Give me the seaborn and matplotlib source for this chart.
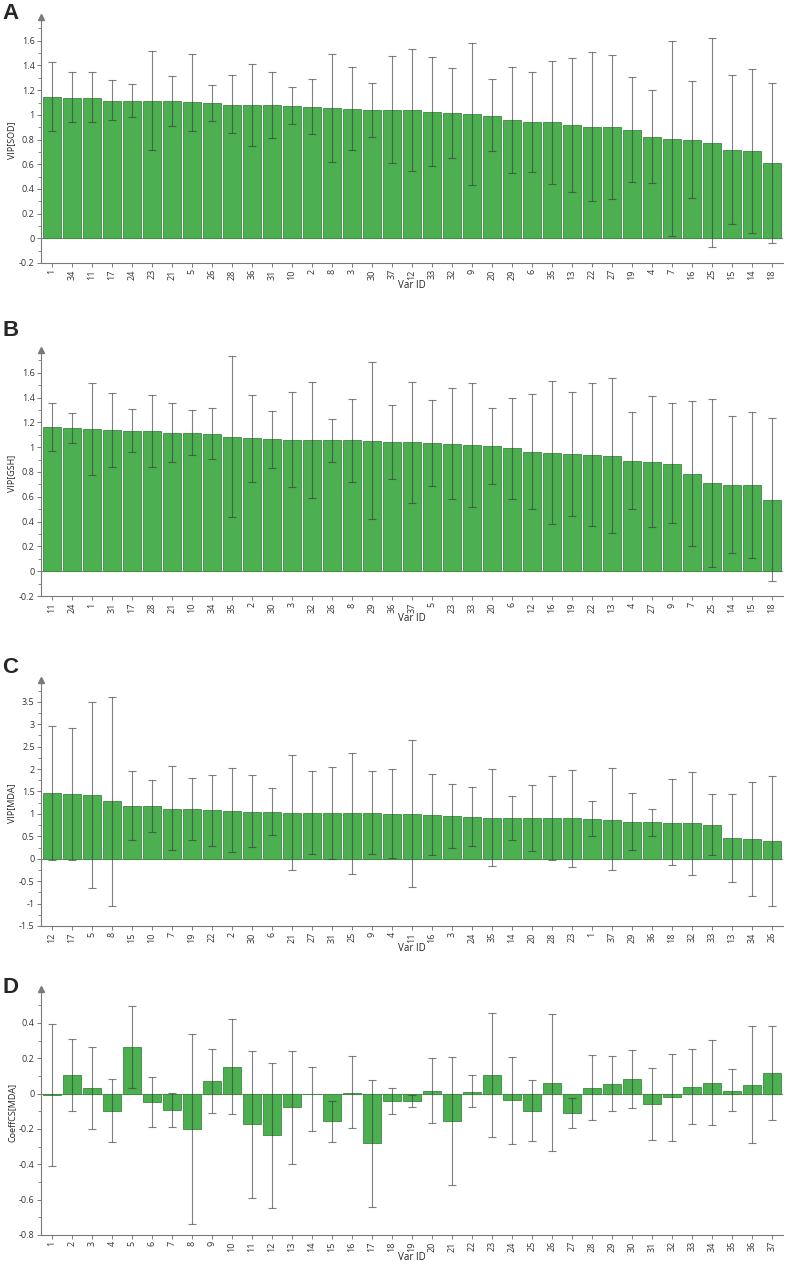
import numpy as np
import pandas as pd
import seaborn as sns
import matplotlib
matplotlib.use('Agg')
import matplotlib.pyplot as plt
from matplotlib.ticker import MultipleLocator, AutoMinorLocator

# ---- panel A: VIP[SOD]
ids_a = ['1', '34', '11', '17', '24', '23', '21', '5', '26', '28', '36', '31', '10', '2', '8', '3', '30', '37', '12',
         '33', '32', '9', '20', '29', '6', '35', '13', '22', '27', '19', '4', '7', '16', '25', '15', '14', '18']
vip_a = [1.141, 1.139, 1.139, 1.115, 1.115, 1.112, 1.109, 1.107, 1.093, 1.083, 1.077, 1.077, 1.072, 1.064, 1.053,
         1.048, 1.043, 1.040, 1.037, 1.021, 1.013, 1.005, 0.989, 0.955, 0.939, 0.939, 0.915, 0.899, 0.899, 0.880,
         0.824, 0.805, 0.797, 0.773, 0.712, 0.704, 0.608]
hi_a = [1.432, 1.349, 1.344, 1.283, 1.253, 1.515, 1.312, 1.493, 1.245, 1.320, 1.408, 1.347, 1.227, 1.288, 1.491,
        1.389, 1.261, 1.480, 1.536, 1.472, 1.379, 1.584, 1.288, 1.384, 1.344, 1.440, 1.461, 1.509, 1.485, 1.304,
        1.205, 1.595, 1.272, 1.619, 1.320, 1.371, 1.256]
lo_a = [0.867, 0.939, 0.944, 0.955, 0.979, 0.717, 0.912, 0.872, 0.947, 0.853, 0.749, 0.813, 0.925, 0.848, 0.621,
        0.712, 0.824, 0.608, 0.547, 0.584, 0.651, 0.432, 0.704, 0.531, 0.539, 0.440, 0.376, 0.299, 0.315, 0.459,
        0.451, 0.021, 0.328, -0.069, 0.115, 0.040, -0.035]

# ---- panel B: VIP[GSH]
ids_b = ['11', '24', '1', '31', '17', '28', '21', '10', '34', '35', '2', '30', '3', '32', '26', '8', '29', '36', '37',
         '5', '23', '33', '20', '6', '12', '16', '19', '22', '13', '4', '27', '9', '7', '25', '14', '15', '18']
vip_b = [1.163, 1.153, 1.145, 1.137, 1.132, 1.129, 1.118, 1.118, 1.108, 1.084, 1.070, 1.062, 1.060, 1.060, 1.054,
         1.054, 1.052, 1.044, 1.038, 1.033, 1.025, 1.014, 1.006, 0.990, 0.961, 0.956, 0.942, 0.937, 0.929, 0.889,
         0.884, 0.863, 0.783, 0.708, 0.698, 0.695, 0.578]
hi_b = [1.360, 1.278, 1.520, 1.435, 1.307, 1.424, 1.358, 1.299, 1.318, 1.733, 1.419, 1.291, 1.443, 1.523, 1.227,
        1.390, 1.688, 1.342, 1.528, 1.382, 1.475, 1.518, 1.313, 1.398, 1.430, 1.531, 1.446, 1.515, 1.555, 1.286,
        1.414, 1.353, 1.374, 1.390, 1.249, 1.283, 1.235]
lo_b = [0.966, 1.030, 0.775, 0.841, 0.958, 0.841, 0.881, 0.940, 0.903, 0.439, 0.719, 0.836, 0.682, 0.594, 0.881,
        0.716, 0.418, 0.745, 0.548, 0.690, 0.583, 0.517, 0.703, 0.583, 0.498, 0.383, 0.445, 0.367, 0.312, 0.501,
        0.357, 0.386, 0.200, 0.035, 0.149, 0.106, -0.075]

# ---- panel C: VIP[MDA]
ids_c = ['12', '17', '5', '8', '15', '10', '7', '19', '22', '2', '30', '6', '21', '27', '31', '25', '9', '4', '11',
         '16', '3', '24', '35', '14', '20', '28', '23', '1', '37', '29', '36', '18', '32', '33', '13', '34', '26']
vip_c = [1.462, 1.448, 1.433, 1.278, 1.174, 1.167, 1.115, 1.100, 1.078, 1.071, 1.049, 1.041, 1.027, 1.019, 1.019,
         1.019, 1.019, 1.004, 1.004, 0.975, 0.945, 0.931, 0.916, 0.916, 0.908, 0.901, 0.901, 0.886, 0.871, 0.820,
         0.812, 0.805, 0.790, 0.753, 0.465, 0.436, 0.391]
hi_c = [2.969, 2.925, 3.508, 3.611, 1.950, 1.758, 2.061, 1.802, 1.876, 2.024, 1.861, 1.580, 2.319, 1.950, 2.053,
        2.363, 1.950, 2.000, 2.651, 1.891, 1.677, 1.595, 2.001, 1.403, 1.654, 1.839, 1.987, 1.285, 2.016, 1.477,
        1.108, 1.780, 1.942, 1.448, 1.455, 1.721, 1.846]
lo_c = [-0.030, -0.030, -0.650, -1.049, 0.414, 0.591, 0.192, 0.414, 0.295, 0.140, 0.258, 0.539, -0.251, 0.096, 0.000,
        -0.332, 0.096, 0.015, -0.635, 0.074, 0.229, 0.295, -0.162, 0.428, 0.177, -0.022, -0.177, 0.502, -0.251, 0.185,
        0.517, -0.148, -0.355, 0.074, -0.524, -0.827, -1.056]

# ---- panel D: CoeffCS[MDA]
ids_d = [str(i) for i in range(1, 38)]
coef_d = [-0.005, 0.104, 0.034, -0.098, 0.262, -0.045, -0.091, -0.198, 0.070, 0.153, -0.174, -0.234, -0.075, -0.004,
          -0.157, 0.006, -0.279, -0.043, -0.042, 0.017, -0.155, 0.011, 0.104, -0.036, -0.098, 0.062, -0.109, 0.034,
          0.057, 0.081, -0.057, -0.019, 0.036, 0.060, 0.017, 0.047, 0.117]
hi_d = [0.394, 0.309, 0.266, 0.085, 0.496, 0.096, 0.004, 0.338, 0.255, 0.425, 0.242, 0.175, 0.243, 0.153, -0.042,
        0.213, 0.077, 0.032, -0.006, 0.202, 0.206, 0.106, 0.457, 0.209, 0.077, 0.453, -0.026, 0.221, 0.215, 0.245,
        0.147, 0.226, 0.251, 0.304, 0.142, 0.381, 0.385]
lo_d = [-0.408, -0.098, -0.200, -0.275, 0.032, -0.187, -0.187, -0.738, -0.109, -0.115, -0.591, -0.645, -0.396, -0.211,
        -0.275, -0.194, -0.640, -0.115, -0.075, -0.164, -0.517, -0.075, -0.243, -0.287, -0.270, -0.323, -0.192, -0.149,
        -0.100, -0.079, -0.260, -0.268, -0.172, -0.179, -0.100, -0.281, -0.147]

sns.set_theme(style='white')
plt.rcParams['font.family'] = ['Open Sans', 'DejaVu Sans']

GREEN = '#4caf50'
EDGE = '#3a8a3e'
GREY = '#7a7a7a'

fig = plt.figure(figsize=(7.96, 12.66), dpi=100)

panels = [
    ('A', ids_a, vip_a, lo_a, hi_a, 'VIP[SOD]', (-0.2, 1.79), 0.2, 0.7923, 1 - 3 / 1266),
    ('B', ids_b, vip_b, lo_b, hi_b, 'VIP[GSH]', (-0.2, 1.78), 0.2, 0.5292, 1 - 320 / 1266),
    ('C', ids_c, vip_c, lo_c, hi_c, 'VIP[MDA]', (-1.5, 3.98), 0.5, 0.2686, 1 - 657 / 1266),
    ('D', ids_d, coef_d, lo_d, hi_d, 'CoeffCS[MDA]', (-0.8, 0.59), 0.2, 0.0245, 1 - 977 / 1266),
]

for letter, ids, vals, lo, hi, ylab, ylim, step, bottom, label_y in panels:
    ax = fig.add_axes([0.0515, bottom, 0.932, 0.194])
    df = pd.DataFrame({'id': ids, 'val': vals})
    sns.barplot(data=df, x='id', y='val', order=ids, color=GREEN, saturation=1,
                width=0.88, edgecolor=EDGE, linewidth=0.6, ax=ax)
    vals = np.array(vals)
    yerr = [vals - np.array(lo), np.array(hi) - vals]
    ax.errorbar(np.arange(len(ids)), vals, yerr=yerr, fmt='none', ecolor='#3c3c3c',
                alpha=0.65, elinewidth=0.8, capsize=3, capthick=0.8)
    ax.axhline(0, color='#8a8a8a', lw=0.8, zorder=0.5)

    ax.set_xlim(-0.55, len(ids) - 0.45)
    ax.set_ylim(*ylim)
    ax.yaxis.set_major_locator(MultipleLocator(step))
    ax.yaxis.set_minor_locator(AutoMinorLocator(2))
    ax.yaxis.set_major_formatter(plt.FuncFormatter(lambda v, p: f'{v:g}'))

    for s in ['top', 'right']:
        ax.spines[s].set_visible(False)
    for s in ['left', 'bottom']:
        ax.spines[s].set_color(GREY)
        ax.spines[s].set_linewidth(0.8)
    # arrow head on top of the y axis
    ax.plot(0, 1.0, marker='^', color=GREY, markersize=4.5, transform=ax.transAxes, clip_on=False)

    ax.tick_params(axis='y', which='major', direction='out', length=3, width=0.7, color=GREY,
                   labelsize=6.5, labelcolor='#333333', pad=1.5, left=True)
    ax.tick_params(axis='y', which='minor', direction='out', length=2, width=0.6, color=GREY, left=True)
    ax.tick_params(axis='x', direction='out', length=3, width=0.7, color=GREY, bottom=True,
                   labelsize=6.5, labelcolor='#333333', rotation=90, pad=1.5)
    ax.set_ylabel(ylab, fontsize=6.5, color='#222222', labelpad=2)
    ax.set_xlabel('Var ID', fontsize=7, color='#222222', labelpad=0)

    fig.text(0.003, label_y, letter, fontsize=16, fontweight='bold', va='top', ha='left',
             family=['Liberation Sans', 'DejaVu Sans'])

fig.savefig('out.png', dpi=100)
